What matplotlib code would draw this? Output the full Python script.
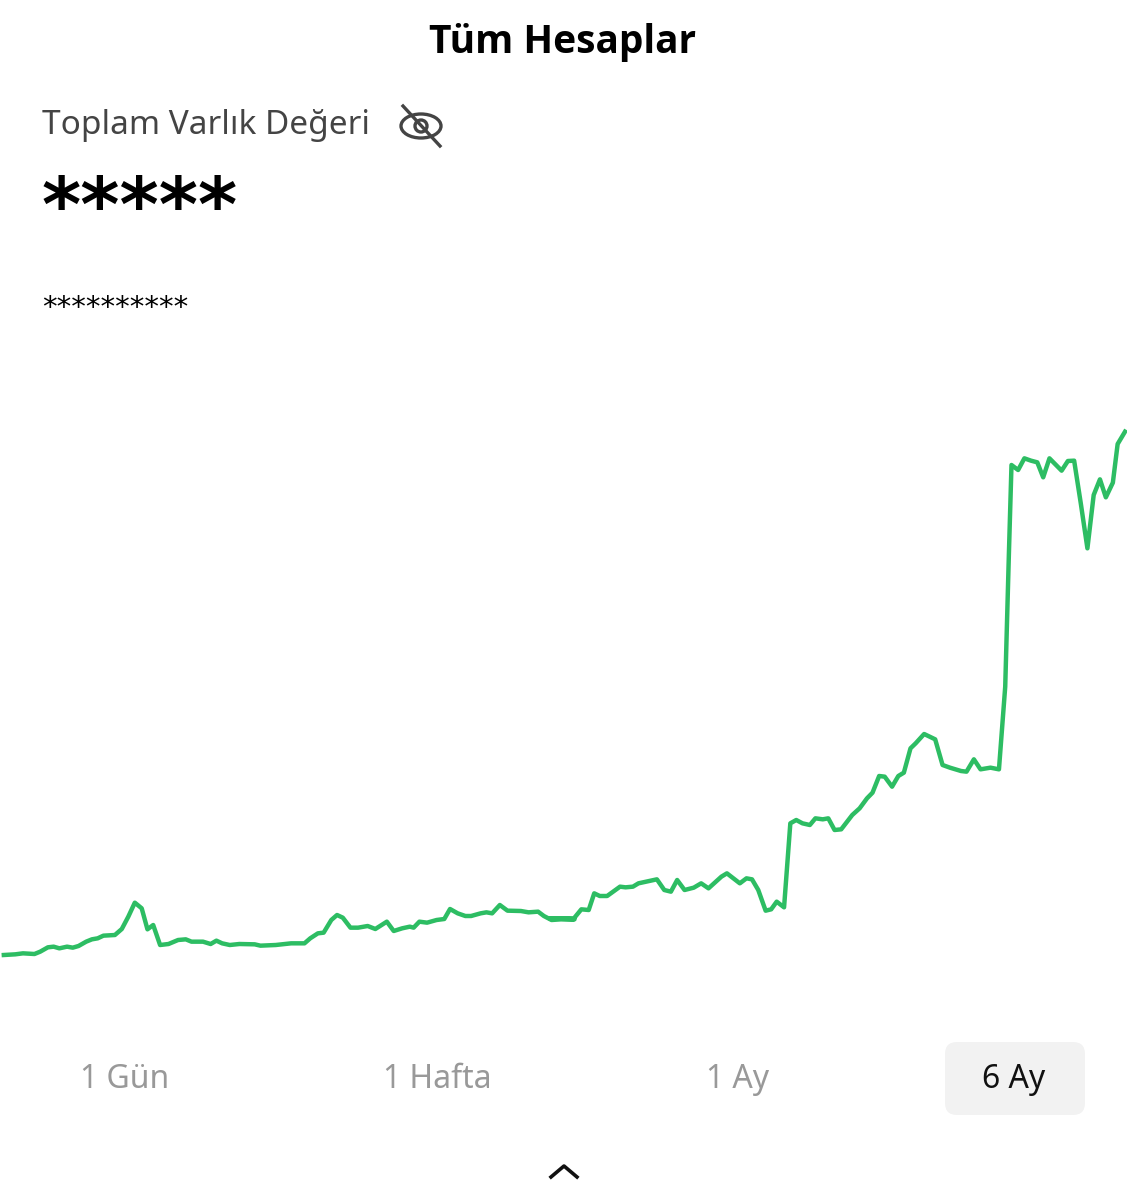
import matplotlib
matplotlib.use("Agg")
import matplotlib.pyplot as plt
from matplotlib.patches import FancyBboxPatch, Ellipse

# portfolio series (two crops, crop pixel coords)
LEFT_X = [10, 40, 60, 90, 105, 125, 140, 155, 175, 190, 205, 225, 240, 255, 270, 300, 318, 335, 352, 370,
          385, 400, 418, 440, 465, 485, 500, 530, 550, 565, 580, 600, 625, 665, 680, 720, 760, 795, 810, 830,
          845, 865, 880, 895, 915, 935, 960, 980, 1010, 1028, 1050, 1070, 1080, 1095, 1115, 1140, 1160, 1175,
          1195, 1215, 1230, 1255, 1270, 1285, 1305, 1325, 1360, 1380, 1405, 1420, 1440, 1465, 1500]
LEFT_Y = [315, 313, 310, 312, 305, 292, 290, 295, 290, 293, 288, 275, 268, 265, 257, 255, 237, 200, 158, 175,
          238, 225, 285, 282, 270, 268, 275, 275, 282, 272, 280, 285, 282, 283, 287, 285, 280, 280, 265, 250,
          248, 210, 195, 203, 233, 233, 228, 237, 215, 243, 235, 230, 233, 215, 218, 210, 207, 177,
          190, 198, 198, 190, 187, 190, 165, 182, 183, 187, 185, 198, 210, 208, 208]
RIGHT_X = [0, 65, 85, 105, 120, 135, 155, 190, 205, 225, 240, 290, 310, 328, 345, 365, 390, 410, 430, 465,
           480, 515, 533, 548, 565, 585, 600, 615, 635, 652, 668, 685, 705, 720, 740, 755, 772, 790, 820, 840,
           860, 875, 893, 908, 928, 945, 960, 978, 992, 1015, 1045, 1065, 1085, 1115, 1130, 1150, 1168, 1195,
           1218, 1235, 1245, 1252, 1270, 1287, 1305, 1322, 1338, 1355, 1388, 1405, 1422, 1440, 1458, 1475,
           1492, 1508, 1527, 1540, 1560]
RIGHT_Y = [1495, 1495, 1468, 1470, 1420, 1428, 1428, 1400, 1402, 1400, 1390, 1378, 1410, 1415, 1380, 1410,
           1403, 1390, 1405, 1370, 1360, 1390, 1375, 1378, 1410, 1472, 1468, 1445, 1462, 1210, 1200, 1210,
           1215, 1195, 1198, 1195, 1230, 1228, 1185, 1165, 1135, 1118, 1068, 1070, 1100, 1068, 1058, 985,
           970, 942, 958, 1035, 1043, 1053, 1055, 1018, 1048, 1043, 1048, 800, 400, 135, 150, 115, 122, 127,
           172, 115, 152, 123, 122, 250, 385, 225, 178, 232, 188, 72, 35]

# crop -> screen pixels
xs = [x * 0.383 for x in LEFT_X] + [550 + x * 0.3686 for x in RIGHT_X]
ys = [850 + y / 3 for y in LEFT_Y] + [420 + y / 3 for y in RIGHT_Y]

RANGES = ["1 Gün", "1 Hafta", "1 Ay", "6 Ay"]
RANGE_X = [125, 437, 738, 1014]

fig = plt.figure(figsize=(11.27, 12), dpi=100)
ax = fig.add_axes([0, 0, 1, 1])
ax.set_xlim(0, 1127); ax.set_ylim(1200, 0); ax.axis("off")

ax.plot(xs, ys, color="#2dbd63", lw=3.2, solid_joinstyle="round")

ax.text(563, 42, "Tüm Hesaplar", ha="center", va="center", fontsize=28, fontweight="bold", family="Open Sans")
ax.text(42, 125, "Toplam Varlık Değeri", ha="left", va="center", fontsize=24, color="#444444", family="Noto Sans")
# eye-slash icon
ax.add_patch(Ellipse((421, 126), 40, 24, fill=False, lw=2.4, ec="#444444"))
ax.add_patch(Ellipse((421, 126), 12, 12, fill=False, lw=2.4, ec="#444444"))
ax.plot([403, 440], [106, 146], color="#444444", lw=2.4)
ax.text(42, 210, "*****", ha="left", va="center", fontsize=54, fontweight="bold", family="DejaVu Sans")
ax.text(42, 308, "**********", ha="left", va="center", fontsize=21, family="DejaVu Sans")

ax.add_patch(FancyBboxPatch((945, 1042), 140, 73, boxstyle="round,pad=0,rounding_size=12",
                            fc="#f2f2f2", ec="none"))
for i, (lab, x) in enumerate(zip(RANGES, RANGE_X)):
    ax.text(x, 1079, lab, ha="center", va="center", fontsize=23, family="Noto Sans",
            color="#111111" if i == 3 else "#999999")
ax.plot([551, 564, 577], [1177, 1166, 1177], color="#111111", lw=2.6)

fig.savefig("out.png", dpi=100)
